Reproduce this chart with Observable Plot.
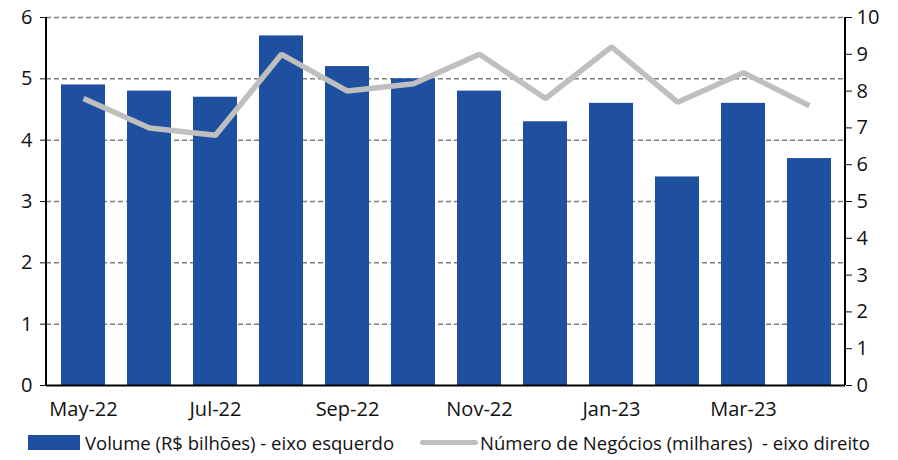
<!DOCTYPE html>
<html><head><meta charset="utf-8">
<script src="https://cdn.jsdelivr.net/npm/d3@7"></script>
<script src="https://cdn.jsdelivr.net/npm/@observablehq/plot@0.6"></script>
<style>
body{margin:0;background:#fff;font-family:"Open Sans",sans-serif;}
#legend{display:flex;align-items:center;font-size:18.5px;color:#111;height:28px;margin-top:0px;}
.sw{display:inline-block;}
</style></head><body>
<div id="chart"></div>
<div id="legend">
 <span class="sw" style="margin-left:28px;width:52px;height:15px;background:#1f4f9f"></span>
 <span style="margin-left:5px">Volume (R$ bilhões) - eixo esquerdo</span>
 <span class="sw" style="margin-left:26px;width:58px;height:5px;border-radius:3px;background:#bfbfbf"></span>
 <span style="margin-left:2px">Número de Negócios (milhares)&nbsp; - eixo direito</span>
</div>
<script>
const months = ["May-22","Jun-22","Jul-22","Aug-22","Sep-22","Oct-22","Nov-22","Dec-22","Jan-23","Feb-23","Mar-23","Apr-23"];
const volume = [4.9,4.8,4.7,5.7,5.2,5.0,4.8,4.3,4.6,3.4,4.6,3.7];
const negocios = [7.8,7.0,6.8,9.0,8.0,8.2,9.0,7.8,9.2,7.7,8.5,7.6];
const xLabels = ["May-22","Jul-22","Sep-22","Nov-22","Jan-23","Mar-23"];
const leftTicks = [0,1,2,3,4,5,6];
const rightTicks = [0,1,2,3,4,5,6,7,8,9,10];

const k = 6/10;
const data = months.map((m,i)=>({m, v: volume[i], n: negocios[i]*k}));

const chart = Plot.plot({
  width: 898, height: 428,
  marginLeft: 46, marginRight: 53, marginTop: 17, marginBottom: 43,
  style: {fontFamily: "'Open Sans', sans-serif", fontSize: "20px", color: "#111"},
  x: {type: "band", domain: months, paddingInner: 0.34, paddingOuter: 0.15, label: null},
  y: {domain: [0, 6], label: null},
  marks: [
    Plot.ruleY(leftTicks.slice(1), {stroke: "#808080", strokeWidth: 1.5, strokeDasharray: "5,3", strokeOpacity: 1}),
    Plot.barY(data, {x: "m", y: "v", fill: "#1f4f9f"}),
    Plot.lineY(data, {x: "m", y: "n", stroke: "#bfbfbf", strokeWidth: 5.5, strokeLinejoin: "miter", strokeLinecap: "butt"}),
    Plot.axisY({anchor: "left", ticks: leftTicks, tickFormat: d=>String(d), tickSize: 6, tickPadding: 8, label: null, fontSize: 20}),
    Plot.axisY({anchor: "right", ticks: rightTicks.map(d=>d*k), tickFormat: d=>String(Math.round(d/k)), tickSize: 6, tickPadding: 5, label: null, fontSize: 20}),
    Plot.axisX({ticks: xLabels, tickSize: 0, tickPadding: 16, label: null, fontSize: 20}),
    Plot.ruleY([0], {stroke: "#000", strokeWidth: 2}),
  ]
});
document.getElementById("chart").appendChild(chart);
const svg = d3.select(chart);
svg.append("line").attr("x1",46).attr("x2",46).attr("y1",17).attr("y2",385).attr("stroke","#000").attr("stroke-width",2);
svg.append("line").attr("x1",845).attr("x2",845).attr("y1",17).attr("y2",385).attr("stroke","#000").attr("stroke-width",2);
</script>
</body></html>
